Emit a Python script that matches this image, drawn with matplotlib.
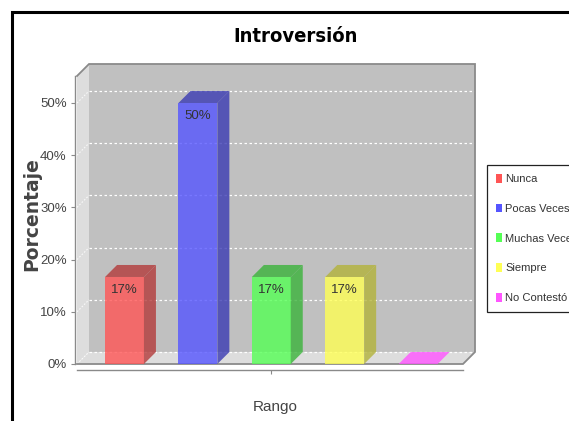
import matplotlib
matplotlib.use("Agg")
import matplotlib.pyplot as plt
import matplotlib.colors as mcolors
from matplotlib.patches import Polygon, Rectangle, Patch
import numpy as np

categories = ["Nunca", "Pocas Veces", "Muchas Veces", "Siempre", "No Contestó"]
percentages = [16.67, 50.0, 16.67, 16.67, 0.0]
colors = ["#ff5555", "#5555ff", "#55ff55", "#ffff55", "#ff55ff"]
y_ticks = [0, 10, 20, 30, 40, 50]
y_tick_labels = ["0%", "10%", "20%", "30%", "40%", "50%"]

plt.rcParams['font.family'] = ['Liberation Sans', 'DejaVu Sans']

W, H = 569, 421
fig = plt.figure(figsize=(W / 100, H / 100), dpi=100)
fig.patch.set_facecolor("white")

# plot box in pixels, including the 12px of fake 3D depth
left_px, right_px, top_px, bottom_px = 77, 475, 64, 364
ax = fig.add_axes([left_px / W, 1 - bottom_px / H,
                   (right_px - left_px) / W, (bottom_px - top_px) / H])
ax.patch.set_visible(False)

x = np.arange(len(categories))
bar_w = 0.53
x_lo, x_hi = -0.647, 4.775
y_hi = 57.47
ax.set_xlim(x_lo, x_hi)
ax.set_ylim(0, y_hi)

depth_px = 12
dx = depth_px * (x_hi - x_lo) / (right_px - left_px)
dy = depth_px * y_hi / (bottom_px - top_px)
x_front = x_hi - dx
y_front = y_hi - dy

wall = "#c0c0c0"
wall_light = "#dddddd"
edge = "#8a8a8a"

# back wall, left wall, floor
ax.add_patch(Rectangle((x_lo + dx, dy), x_front - x_lo, y_front,
                       facecolor=wall, edgecolor="none", zorder=0))
ax.add_patch(Polygon([(x_lo, 0), (x_lo, y_front), (x_lo + dx, y_hi), (x_lo + dx, dy)],
                     closed=True, facecolor=wall_light, edgecolor="none", zorder=0))
ax.add_patch(Polygon([(x_lo, 0), (x_front, 0), (x_hi, dy), (x_lo + dx, dy)],
                     closed=True, facecolor=wall_light, edgecolor="none", zorder=0))

for t in y_ticks:
    ax.plot([x_lo + dx, x_hi], [t + dy, t + dy], color="white", lw=0.9,
            ls=(0, (2, 2)), zorder=1)
    ax.plot([x_lo, x_lo + dx], [t, t + dy], color="white", lw=0.8,
            ls=(0, (1.5, 1.5)), alpha=0.8, zorder=1)

ax.plot([x_lo, x_lo + dx, x_hi, x_hi, x_front, x_lo],
        [y_front, y_hi, y_hi, dy, 0, 0], color=edge, lw=1.3, zorder=2,
        clip_on=False, solid_joinstyle="miter")

# bars: front faces, then top and side faces in a darker shade
ax.bar(x, percentages, bar_w, color=colors, alpha=0.8, linewidth=0, zorder=3)
for xi, v, c in zip(x, percentages, colors):
    shade = np.array(mcolors.to_rgb(c)) * 0.7 if v > 0 else c
    l, r = xi - bar_w / 2, xi + bar_w / 2
    ax.add_patch(Polygon([(l, v), (r, v), (r + dx, v + dy), (l + dx, v + dy)],
                         closed=True, facecolor=shade, alpha=0.8, lw=0, zorder=3))
    if v > 0:
        ax.add_patch(Polygon([(r, 0), (r + dx, dy), (r + dx, v + dy), (r, v)],
                             closed=True, facecolor=shade, alpha=0.8, lw=0, zorder=3))
        ax.annotate(f"{v:.0f}%", (xi, v), xytext=(0, -9.5), textcoords="offset points",
                    ha="center", va="center", fontsize=9.5, color="#333333", zorder=4)

for s in ["top", "right"]:
    ax.spines[s].set_visible(False)
ax.spines["left"].set_bounds(0, y_front)
ax.spines["left"].set_position(("outward", 1.5))
ax.spines["bottom"].set_bounds(x_lo, x_front)
ax.spines["bottom"].set_position(("outward", 4.3))
for s in ["left", "bottom"]:
    ax.spines[s].set_color(edge)
    ax.spines[s].set_linewidth(1.0)

ax.set_yticks(y_ticks, y_tick_labels)
ax.set_xticks([x.mean()], [""])
ax.tick_params(axis="both", color=edge, labelcolor="#444444", length=3,
               width=0.8, pad=3, labelsize=9.5)

ax.set_ylabel("Porcentaje", fontsize=13.5, fontweight="bold", color="#444444",
              family="DejaVu Sans")
ax.yaxis.label.set_va("center")
ax.yaxis.set_label_coords((32 - left_px) / (right_px - left_px), 0.5)
ax.set_xlabel("Rango", fontsize=11, color="#444444")
ax.xaxis.label.set_va("center")
ax.xaxis.set_label_coords((275 - left_px) / (right_px - left_px),
                          (bottom_px - 407) / (bottom_px - top_px))

fig.text(296 / W, 1 - 36 / H, "Introversión", ha="center", va="center",
         fontsize=14.5, fontweight="bold", family="DejaVu Sans",
         fontstretch="condensed")

# outer frame, only its left and top edges fall inside the image
fig.add_artist(Rectangle((11.5 / W, -0.2), 2, 1.2 - 11.5 / H, facecolor="none",
                         edgecolor="black", lw=2.2, transform=fig.transFigure))

handles = [Patch(facecolor=c, edgecolor="none", label=n) for c, n in zip(colors, categories)]
leg = fig.legend(handles=handles, loc="upper left", bbox_to_anchor=(487 / W, 1 - 165 / H),
                 frameon=True, fancybox=False, edgecolor="#222222", framealpha=1,
                 borderaxespad=0, borderpad=0.8, labelspacing=1.75, handlelength=0.55,
                 handleheight=0.85, handletextpad=0.3, fontsize=8.0, labelcolor="#333333")
leg.get_frame().set_linewidth(0.9)

fig.savefig("out.png", dpi=100)
